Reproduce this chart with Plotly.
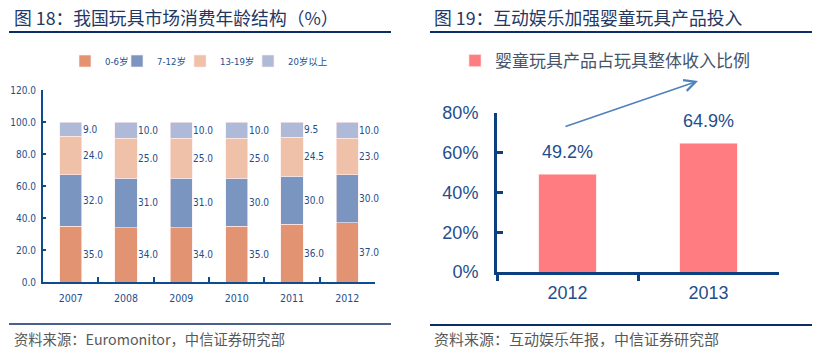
import plotly.graph_objects as go

W, H = 829, 356


def px(x):
    return x / W


def py(y):
    return 1 - y / H


# ---------------- data ----------------
years = ["2007", "2008", "2009", "2010", "2011", "2012"]
age_groups = ["0-6岁", "7-12岁", "13-19岁", "20岁以上"]
share_0_6 = [35.0, 34.0, 34.0, 35.0, 36.0, 37.0]
share_7_12 = [32.0, 31.0, 31.0, 30.0, 30.0, 30.0]
share_13_19 = [24.0, 25.0, 25.0, 25.0, 24.5, 23.0]
share_20_plus = [9.0, 10.0, 10.0, 10.0, 9.5, 10.0]
left_yticks = [0, 20, 40, 60, 80, 100, 120]

baby_years = ["2012", "2013"]
baby_share = [49.2, 64.9]
right_series = "婴童玩具产品占玩具整体收入比例"
right_yticks = [0, 20, 40, 60, 80]

title_left = "图 18：我国玩具市场消费年龄结构（%）"
title_right = "图 19：互动娱乐加强婴童玩具产品投入"
source_left = "资料来源：Euromonitor，中信证券研究部"
source_right = "资料来源：互动娱乐年报，中信证券研究部"

# ---------------- styles ----------------
NAVY = "#1F3864"
AXIS_NAVY = "#0E4C92"
TXT_NAVY = "#1F4E8C"
GREY = "#595959"
NARROW = "Liberation Sans Narrow, DejaVu Sans Condensed, Noto Sans CJK SC, sans-serif"
CJK = "Noto Sans CJK SC, sans-serif"
SANS = "Liberation Sans, Arial, Noto Sans CJK SC, sans-serif"
left_colors = ["#E29472", "#7A96C0", "#EEC1A8", "#AEBAD8"]
right_color = "#FF7C80"
# one legend box per age group so each entry sits where the reference shows it
left_legend_ids = ["legend", "legend3", "legend4", "legend5"]
left_legend_px = [65, 117, 180, 248]

series_left = [share_0_6, share_7_12, share_13_19, share_20_plus]

fig = go.Figure()

for name, vals, col, lg in zip(age_groups, series_left, left_colors, left_legend_ids):
    fig.add_trace(go.Bar(
        x=years, y=vals, name=name, xaxis="x", yaxis="y",
        marker=dict(color=col, line=dict(color="rgba(255,235,235,0.8)", width=0.8)),
        width=0.4, legend=lg,
    ))

fig.add_trace(go.Bar(
    x=baby_years, y=baby_share, name=right_series, xaxis="x2", yaxis="y2",
    marker=dict(color=right_color, line=dict(color="rgba(255,220,220,0.8)", width=0.8)),
    width=0.41, legend="legend2",
))

annotations = []
# left stacked labels (to the right of each segment); x given as category index
for i, yr in enumerate(years):
    base = 0.0
    for vals in series_left:
        v = vals[i]
        annotations.append(dict(
            x=i, y=base + v / 2, xref="x", yref="y", text=f"{v:.1f}",
            showarrow=False, xanchor="left", yanchor="middle", xshift=10,
            font=dict(family=NARROW, size=10, color=TXT_NAVY),
        ))
        base += v

# right labels above bars
for i, v in enumerate(baby_share):
    annotations.append(dict(
        x=i, y=v, xref="x2", yref="y2", text=f"{v:.1f}%",
        showarrow=False, xanchor="center", yanchor="bottom", yshift=10,
        font=dict(family=SANS, size=18, color=TXT_NAVY),
    ))

# titles and sources
annotations += [
    dict(x=px(12), y=py(17), xref="paper", yref="paper", text=title_left,
         showarrow=False, xanchor="left", yanchor="middle",
         font=dict(family=CJK, size=17.8, color=NAVY)),
    dict(x=px(432), y=py(17), xref="paper", yref="paper", text=title_right,
         showarrow=False, xanchor="left", yanchor="middle",
         font=dict(family=CJK, size=17.8, color=NAVY)),
    dict(x=px(12), y=py(338), xref="paper", yref="paper", text=source_left,
         showarrow=False, xanchor="left", yanchor="middle",
         font=dict(family=CJK, size=14.3, color=GREY)),
    dict(x=px(432), y=py(338), xref="paper", yref="paper", text=source_right,
         showarrow=False, xanchor="left", yanchor="middle",
         font=dict(family=CJK, size=15, color=GREY)),
    # growth arrow
    dict(x=px(698), y=py(81), ax=564 - 698, ay=127 - 81, xref="paper", yref="paper",
         axref="pixel", ayref="pixel", text="", showarrow=True,
         arrowhead=5, arrowsize=1.4, arrowwidth=1.6, arrowcolor="#4F81BD"),
]

shapes = [
    dict(type="line", xref="paper", yref="paper", x0=px(9), x1=px(391), y0=py(32), y1=py(32),
         line=dict(color="#0B2E66", width=2.2)),
    dict(type="line", xref="paper", yref="paper", x0=px(430), x1=px(812), y0=py(32), y1=py(32),
         line=dict(color="#0B2E66", width=2.2)),
    dict(type="line", xref="paper", yref="paper", x0=px(9), x1=px(391), y0=py(324), y1=py(324),
         line=dict(color="#0B2E66", width=1.5)),
    dict(type="line", xref="paper", yref="paper", x0=px(430), x1=px(812), y0=py(325), y1=py(325),
         line=dict(color="#0B2E66", width=2.2)),
]

legend_layout = {}
for lg, lx in zip(left_legend_ids, left_legend_px):
    legend_layout[lg] = dict(
        orientation="h", x=px(lx), y=py(61), xanchor="left", yanchor="middle",
        font=dict(family=NARROW, size=9.5, color=TXT_NAVY), bgcolor="rgba(0,0,0,0)",
        itemwidth=30,
    )
legend_layout["legend2"] = dict(
    orientation="h", x=px(455), y=py(61), xanchor="left", yanchor="middle",
    font=dict(family=CJK, size=17, color="#44546A"), bgcolor="rgba(0,0,0,0)",
    itemwidth=30,
)

fig.update_layout(
    width=W, height=H, autosize=False,
    margin=dict(l=0, r=0, t=0, b=0, autoexpand=False),
    paper_bgcolor="white", plot_bgcolor="white",
    barmode="stack",
    showlegend=True,
    annotations=annotations,
    shapes=shapes,
    xaxis=dict(
        domain=[px(43), px(375)], type="category", range=[-0.5, len(years) - 0.5],
        categoryorder="array", categoryarray=years, automargin=False,
        showgrid=False, zeroline=False,
        showline=True, linecolor=AXIS_NAVY, linewidth=2,
        ticks="inside", ticklen=5, tickwidth=2, tickcolor=AXIS_NAVY, tickson="boundaries",
        tickfont=dict(family=NARROW, size=10.5, color=TXT_NAVY), ticklabelstandoff=5,
        tickangle=0, fixedrange=True,
    ),
    yaxis=dict(
        domain=[py(282), py(90)], range=[0, 120], automargin=False,
        showgrid=False, zeroline=False,
        showline=True, linecolor=AXIS_NAVY, linewidth=2,
        tickvals=left_yticks, ticktext=[f"{t:.1f}" for t in left_yticks],
        ticks="inside", ticklen=3, tickwidth=2, tickcolor=AXIS_NAVY,
        tickfont=dict(family=NARROW, size=10, color=TXT_NAVY), ticklabelstandoff=3,
        fixedrange=True,
    ),
    xaxis2=dict(
        domain=[px(497), px(779)], type="category", range=[-0.5, len(baby_years) - 0.5],
        categoryorder="array", categoryarray=baby_years, automargin=False,
        showgrid=False, zeroline=False,
        showline=True, linecolor="#0B3F7F", linewidth=3, anchor="y2",
        ticks="outside", ticklen=6, tickwidth=3, tickcolor="#0B3F7F", tickson="boundaries",
        tickfont=dict(family=SANS, size=18, color=TXT_NAVY), ticklabelstandoff=2,
        tickangle=0, fixedrange=True,
    ),
    yaxis2=dict(
        domain=[py(272), py(113)], range=[0, 80], automargin=False,
        showgrid=False, zeroline=False,
        showline=True, linecolor="#0B3F7F", linewidth=3, anchor="x2",
        tickvals=right_yticks, ticktext=[f"{t}%" for t in right_yticks],
        ticks="inside", ticklen=6, tickwidth=3, tickcolor="#0B3F7F",
        tickfont=dict(family=SANS, size=18, color=TXT_NAVY), ticklabelstandoff=12,
        fixedrange=True,
    ),
    **legend_layout,
)

fig.write_html(
    "out.html",
    config={"displayModeBar": False},
    post_script="document.body.style.margin='0';document.body.style.padding='0';",
)
